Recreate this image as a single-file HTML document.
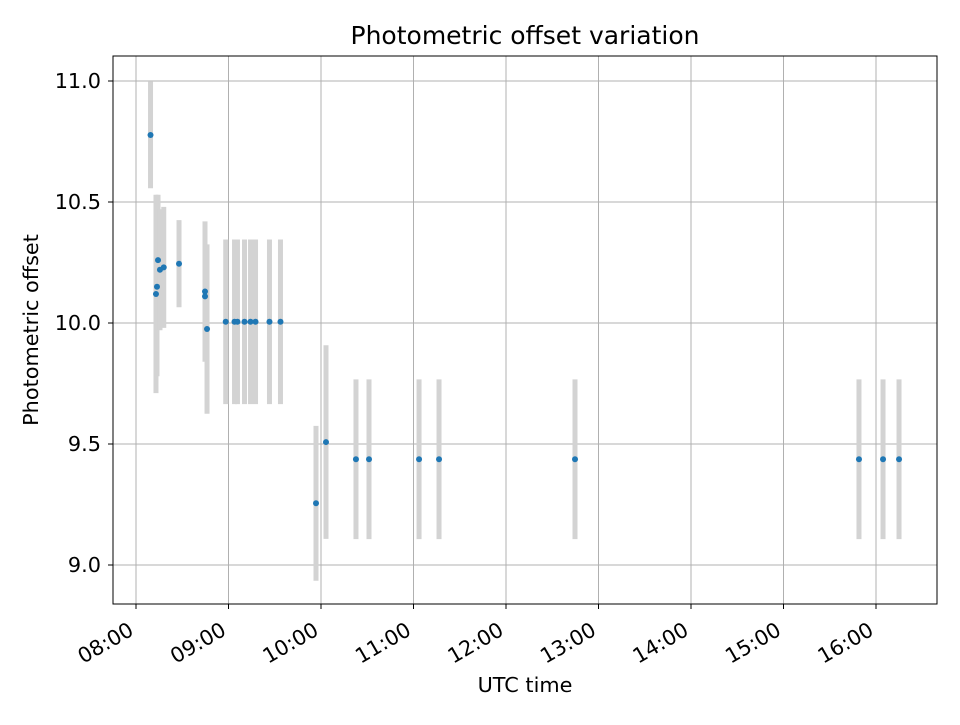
<!DOCTYPE html>
<html><head><meta charset="utf-8"><style>
body{margin:0;background:#fff;}
svg text{font-family:"DejaVu Sans","Liberation Sans",sans-serif;fill:#000;}
</style></head><body>
<svg id="chart" width="960" height="720" xmlns="http://www.w3.org/2000/svg">
<rect width="960" height="720" fill="#fff"/>
<g id="grid"></g><g id="errs"></g><g id="pts"></g><g id="axes"></g>
<text x="525" y="44" font-size="25" text-anchor="middle">Photometric offset variation</text>
<text x="525" y="692" font-size="20.8" text-anchor="middle">UTC time</text>
<text transform="translate(38,330) rotate(-90)" font-size="20.8" text-anchor="middle">Photometric offset</text>
</svg>
<script>
// times in hours (UTC), offsets and errors
const times=[8.157,8.216,8.227,8.238,8.259,8.30,8.465,8.746,8.746,8.768,8.97,9.065,9.097,9.173,9.238,9.292,9.443,9.562,9.946,10.054,10.378,10.519,11.06,11.276,12.746,15.816,16.076,16.249];
const offsets=[10.777,10.12,10.15,10.26,10.22,10.23,10.245,10.13,10.11,9.975,10.005,10.005,10.005,10.005,10.005,10.005,10.005,10.005,9.255,9.508,9.437,9.437,9.437,9.437,9.437,9.437,9.437,9.437];
const errors=[0.22,0.41,0.37,0.27,0.25,0.25,0.18,0.29,0.2,0.35,0.34,0.34,0.34,0.34,0.34,0.34,0.34,0.34,0.32,0.4,0.33,0.33,0.33,0.33,0.33,0.33,0.33,0.33];
const yTicks=[9.0,9.5,10.0,10.5,11.0];
const xTicks=[8,9,10,11,12,13,14,15,16];
const xTickLabels=["08:00","09:00","10:00","11:00","12:00","13:00","14:00","15:00","16:00"];

const L=113,R=937,T=56,B=604;
const X=h=>136+(h-8)*92.5;
const Y=v=>323-(v-10)*242;
const NS="http://www.w3.org/2000/svg";
function mk(tag,parent,attrs){const e=document.createElementNS(NS,tag);for(const k in attrs)e.setAttribute(k,attrs[k]);parent.appendChild(e);return e;}
const grid=document.getElementById('grid'),errs=document.getElementById('errs'),pts=document.getElementById('pts'),axes=document.getElementById('axes');
yTicks.forEach(v=>{
  const g=mk('line',grid,{x1:L,x2:R,y1:Y(v),y2:Y(v),stroke:'#b0b0b0','stroke-width':1});
  
  
  mk('line',axes,{x1:L-5,x2:L,y1:Y(v),y2:Y(v),stroke:'#000','stroke-width':1});
  const t=mk('text',axes,{x:L-12,y:Y(v)+7,'font-size':20.8,'text-anchor':'end'});
  t.textContent=v.toFixed(1);
  
  
});
xTicks.forEach((h,i)=>{
  const g=mk('line',grid,{x1:X(h),x2:X(h),y1:T,y2:B,stroke:'#b0b0b0','stroke-width':1});
  
  
  mk('line',axes,{x1:X(h),x2:X(h),y1:B,y2:B+5,stroke:'#000','stroke-width':1});
  const t=mk('text',axes,{'font-size':20.8,'text-anchor':'end',transform:`translate(${X(h)-1},${B+30}) rotate(-30)`});
  t.textContent=xTickLabels[i];
  
  
});
times.forEach((h,i)=>{
  const e=mk('line',errs,{x1:X(h),x2:X(h),y1:Y(offsets[i]+errors[i]),y2:Y(offsets[i]-errors[i]),stroke:'#d3d3d3','stroke-width':5});
  
  
});
times.forEach((h,i)=>{
  const c=mk('circle',pts,{cx:X(h),cy:Y(offsets[i]),r:3,fill:'#1f77b4'});
  
  
});
const fr=mk('rect',axes,{x:L,y:T,width:R-L,height:B-T,fill:'none',stroke:'#000','stroke-width':1});


</script>
</body></html>
